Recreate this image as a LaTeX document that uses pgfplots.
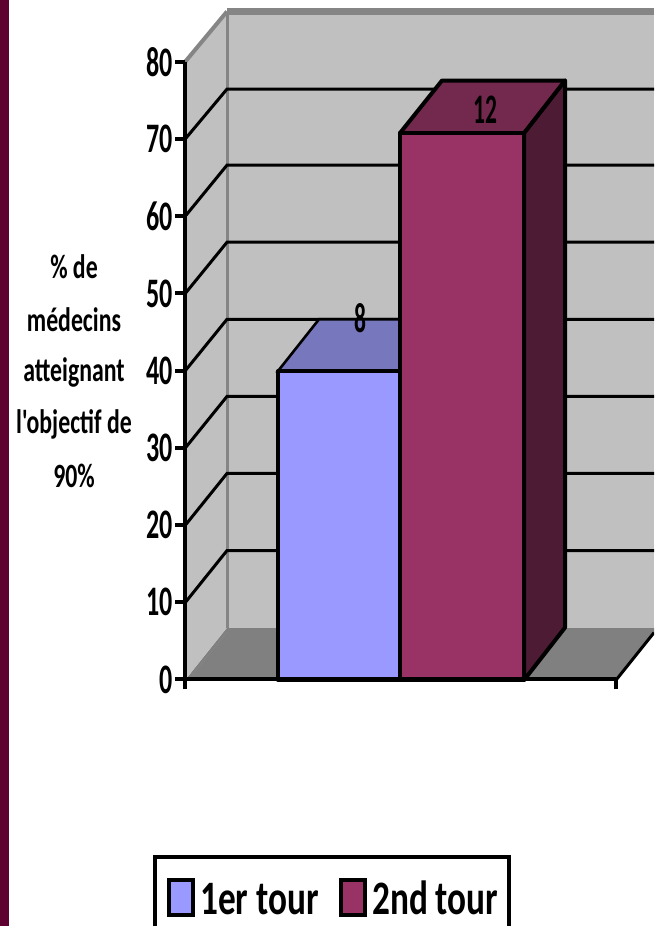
\documentclass[border=0pt]{standalone}
\usepackage{pgfplots}
\pgfplotsset{compat=1.18}
\usepackage{fontspec}
\setmainfont[Ligatures=TeXOff]{Carlito}
\definecolor{wall}{HTML}{C0C0C0}
\definecolor{floorgray}{HTML}{808080}
\definecolor{edgegray}{HTML}{858585}
\definecolor{frameplum}{HTML}{5E0030}
\definecolor{frontA}{HTML}{9999FF}
\definecolor{topA}{HTML}{7777BD}
\definecolor{frontB}{HTML}{993366}
\definecolor{topB}{HTML}{73284D}
\definecolor{sideB}{HTML}{4D1B33}
% Horizontally condensed text, as set on the slide
\newcommand{\cond}[2][0.74]{\scalebox{#1}[1]{\bfseries #2}}
\begin{document}
\begin{tikzpicture}[x=1pt,y=1pt]
% Walls, floor, gridlines and bars: x in layout units, y in percent
\begin{axis}[
  at={(0pt,0pt)}, anchor=south west,
  scale only axis, width=654pt, height=926pt,
  xmin=0, xmax=654, ymin=-31.82, ymax=88.02,
  hide axis, clip=true,
]
% floor and walls
\addplot[fill=floorgray, draw=none] coordinates {(185,0) (227,6.80) (658,6.80) (616,0)} -- cycle;
\addplot[fill=wall, draw=none] coordinates {(227,6.80) (227,86.53) (654,86.53) (654,6.80)} -- cycle;
\addplot[fill=wall, draw=none] coordinates {(185,0) (185,80) (227,86.53) (227,6.80)} -- cycle;
% grey edges of the box
\addplot[edgegray, line width=3pt] coordinates {(227,6.80) (227,86.53)};
\addplot[edgegray, line width=6.5pt] coordinates {(227,86.53) (654,86.53)};
\addplot[edgegray, line width=4pt] coordinates {(185,80) (227,86.53)};
\addplot[edgegray, line width=0.8pt] coordinates {(192,0.6) (227,6.2)};
% gridlines, side wall then back wall
\addplot[black, line width=3pt] coordinates {(185,10) (227,16.77) (654,16.77)};
\addplot[black, line width=3pt] coordinates {(185,20) (227,26.75) (654,26.75)};
\addplot[black, line width=3pt] coordinates {(185,30) (227,36.72) (654,36.72)};
\addplot[black, line width=3pt] coordinates {(185,40) (227,46.70) (654,46.70)};
\addplot[black, line width=3pt] coordinates {(185,50) (227,56.67) (654,56.67)};
\addplot[black, line width=3pt] coordinates {(185,60) (227,66.65) (654,66.65)};
\addplot[black, line width=3pt] coordinates {(185,70) (227,76.49) (654,76.49)};
% floor outer edge
\addplot[black, line width=3pt] coordinates {(616,0) (654,6.15)};
% first bar
\addplot[fill=topA, draw=black, line width=2.6pt] coordinates {(278,40) (319,46.7) (445,46.7) (400,40)} -- cycle;
\addplot[fill=frontA, draw=black, line width=4pt, line join=round] coordinates {(278,0) (278,40) (400,40) (400,0)} -- cycle;
% second bar
\addplot[fill=sideB, draw=black, line width=4pt, line join=round] coordinates {(524,0) (565,6.8) (565,77.6) (524,70.8)} -- cycle;
\addplot[fill=topB, draw=black, line width=4pt, line join=round] coordinates {(400,70.8) (442,77.6) (565,77.6) (524,70.8)} -- cycle;
\addplot[fill=frontB, draw=black, line width=4pt, line join=round] coordinates {(400,0) (400,70.8) (524,70.8) (524,0)} -- cycle;
% value labels on the bar tops
\node at (axis cs:360,46.9) {\fontsize{42}{42}\selectfont\cond[0.56]{8}};
\node at (axis cs:485,73.8) {\fontsize{42}{42}\selectfont\cond[0.56]{12}};
\end{axis}
% Value axis and category axis
\begin{axis}[
  at={(185pt,246.5pt)}, anchor=origin,
  scale only axis, width=431pt, height=617.6pt,
  xmin=0, xmax=1, ymin=0, ymax=80,
  axis x line=bottom, axis y line=left,
  axis line style={black, line width=4pt, -},
  ytick={0,10,...,80}, xtick={0,1}, xticklabels={},
  tick style={black, line width=4pt},
  major tick length=10pt,
  tick align=outside,
  y tick label style={font=\fontsize{42}{42}\selectfont, inner sep=0pt, xshift=-2pt},
  yticklabel={\cond[0.62]{\pgfmathtruncatemacro{\tv}{\tick}\tv}},
  clip=false,
]
\end{axis}
% Side strip, axis title and legend: y counted down from the top
\begin{axis}[
  at={(0pt,0pt)}, anchor=south west,
  scale only axis, width=654pt, height=926pt,
  xmin=0, xmax=654, ymin=0, ymax=926, y dir=reverse,
  hide axis, clip=true,
]
\addplot[fill=frameplum, draw=none] coordinates {(0,0) (9,0) (9,926) (0,926)} -- cycle;
\node[font=\fontsize{34}{34}\selectfont] at (axis cs:74,267) {\cond[0.7]{\% de}};
\node[font=\fontsize{34}{34}\selectfont] at (axis cs:74,320) {\cond[0.7]{médecins}};
\node[font=\fontsize{34}{34}\selectfont] at (axis cs:74,372) {\cond[0.7]{atteignant}};
\node[font=\fontsize{34}{34}\selectfont] at (axis cs:74,424) {\cond[0.7]{l'objectif de}};
\node[font=\fontsize{34}{34}\selectfont] at (axis cs:74,476) {\cond[0.7]{90\%}};
% legend box and keys
\addplot[fill=white, draw=black, line width=4.5pt] coordinates {(155,857) (155,940) (509,940) (509,857)} -- cycle;
\addplot[fill=frontA, draw=black, line width=3.5pt] coordinates {(169,880) (169,915) (193,915) (193,880)} -- cycle;
\addplot[fill=frontB, draw=black, line width=3.5pt] coordinates {(341,880) (341,915) (365,915) (365,880)} -- cycle;
\node[font=\fontsize{48}{48}\selectfont, anchor=base west, inner sep=0pt] at (axis cs:200,914) {\cond[0.735]{1er tour}};
\node[font=\fontsize{48}{48}\selectfont, anchor=base west, inner sep=0pt] at (axis cs:372,914) {\cond[0.735]{2nd tour}};
\end{axis}
\end{tikzpicture}
\end{document}
